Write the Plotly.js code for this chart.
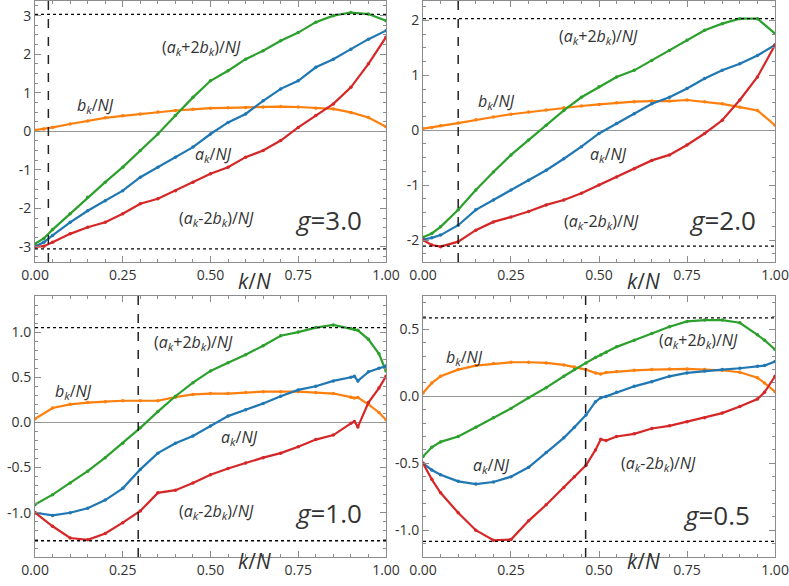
<!DOCTYPE html>
<html>
<head>
<meta charset="utf-8">
<script src="https://cdn.plot.ly/plotly-3.0.1.min.js"></script>
<style>
  body { margin: 0; background: #fff; }
  #chart { width: 789px; height: 586px; }
</style>
</head>
<body>
<div id="chart"></div>
<script>
    // g = 3.0
    var k_g30   = [0, 0.025, 0.05, 0.1, 0.15, 0.2, 0.25, 0.3, 0.35, 0.4, 0.45, 0.5,
                   0.55, 0.6, 0.65, 0.7, 0.75, 0.8, 0.85, 0.9, 0.95, 1.0];
    var b_g30   = [0.03, 0.06, 0.1, 0.19, 0.27, 0.35, 0.4, 0.45, 0.5, 0.54, 0.57, 0.6,
                   0.61, 0.62, 0.63, 0.64, 0.63, 0.6, 0.58, 0.49, 0.36, 0.12];
    var a_g30   = [-2.99, -2.88, -2.7, -2.36, -2.06, -1.8, -1.54, -1.19, -0.93, -0.67, -0.41, -0.07,
                   0.23, 0.45, 0.79, 1.1, 1.31, 1.66, 1.87, 2.13, 2.39, 2.61];
    var apb_g30 = [-2.92, -2.78, -2.55, -2.14, -1.71, -1.32, -0.93, -0.5, -0.07, 0.41, 0.88, 1.31,
                   1.57, 1.87, 2.09, 2.35, 2.56, 2.83, 3.0, 3.08, 3.04, 2.87];
    var amb_g30 = [-3.0, -2.98, -2.88, -2.66, -2.49, -2.36, -2.14, -1.88, -1.75, -1.54, -1.32, -1.1,
                   -0.93, -0.67, -0.5, -0.24, 0.1, 0.41, 0.71, 1.14, 1.75, 2.44];

    // g = 2.0
    var k_g20   = [0, 0.025, 0.05, 0.1, 0.15, 0.2, 0.25, 0.3, 0.35, 0.4, 0.45, 0.5,
                   0.55, 0.6, 0.65, 0.7, 0.75, 0.8, 0.85, 0.9, 0.95, 1.0];
    var b_g20   = [0.03, 0.05, 0.08, 0.13, 0.19, 0.24, 0.29, 0.33, 0.37, 0.41, 0.44, 0.47,
                   0.5, 0.52, 0.53, 0.53, 0.55, 0.52, 0.48, 0.42, 0.36, 0.09];
    var a_g20   = [-1.99, -1.96, -1.91, -1.73, -1.45, -1.27, -1.09, -0.91, -0.73, -0.52, -0.3, -0.06,
                   0.12, 0.3, 0.48, 0.6, 0.76, 0.94, 1.09, 1.21, 1.36, 1.55];
    var apb_g20 = [-1.95, -1.88, -1.76, -1.45, -1.09, -0.76, -0.45, -0.18, 0.09, 0.36, 0.6, 0.79,
                   0.97, 1.09, 1.27, 1.45, 1.64, 1.82, 1.94, 2.03, 2.03, 1.76];
    var amb_g20 = [-2.0, -2.09, -2.12, -2.03, -1.82, -1.67, -1.58, -1.48, -1.36, -1.27, -1.15, -1.0,
                   -0.85, -0.7, -0.55, -0.45, -0.27, -0.06, 0.18, 0.55, 0.97, 1.55];

    // g = 1.0
    var k_g10   = [0, 0.05, 0.1, 0.15, 0.2, 0.25, 0.3, 0.35, 0.4, 0.45, 0.5, 0.55, 0.6,
                   0.65, 0.7, 0.75, 0.8, 0.85, 0.9, 0.91, 0.92, 0.95, 0.98, 1.0];
    var b_g10   = [0.04, 0.16, 0.2, 0.22, 0.23, 0.24, 0.24, 0.24, 0.28, 0.31, 0.32, 0.32, 0.33,
                   0.34, 0.34, 0.34, 0.33, 0.32, 0.28, 0.27, 0.275, 0.2, 0.11, 0.03];
    var a_g10   = [-1.0, -1.03, -1.0, -0.95, -0.86, -0.73, -0.52, -0.34, -0.23, -0.15, -0.04, 0.07, 0.14,
                   0.21, 0.29, 0.36, 0.4, 0.46, 0.5, 0.51, 0.46, 0.56, 0.6, 0.625];
    var apb_g10 = [-0.91, -0.8, -0.67, -0.54, -0.39, -0.23, -0.06, 0.12, 0.29, 0.44, 0.57, 0.66, 0.75,
                   0.85, 0.96, 1.0, 1.05, 1.08, 1.04, 1.03, 1.02, 0.92, 0.76, 0.57];
    var amb_g10 = [-1.0, -1.15, -1.28, -1.3, -1.23, -1.11, -0.98, -0.78, -0.75, -0.67, -0.58, -0.51, -0.45,
                   -0.39, -0.34, -0.27, -0.19, -0.14, -0.01, 0.01, -0.05, 0.22, 0.38, 0.51];

    // g = 0.5
    var k_g05   = [0, 0.025, 0.05, 0.1, 0.15, 0.2, 0.25, 0.3, 0.35, 0.4, 0.43, 0.463, 0.49,
                   0.505, 0.52, 0.55, 0.6, 0.65, 0.7, 0.75, 0.8, 0.85, 0.9, 0.95, 0.97, 1.0];
    var b_g05   = [0.025, 0.1, 0.15, 0.2, 0.23, 0.245, 0.255, 0.255, 0.25, 0.235, 0.22, 0.2, 0.175,
                   0.167, 0.178, 0.185, 0.195, 0.2, 0.205, 0.205, 0.2, 0.195, 0.18, 0.14, 0.1, 0.035];
    var a_g05   = [-0.5, -0.55, -0.585, -0.635, -0.655, -0.64, -0.6, -0.53, -0.42, -0.31, -0.23, -0.14, -0.04,
                   -0.01, 0.0, 0.03, 0.075, 0.11, 0.15, 0.175, 0.19, 0.2, 0.21, 0.225, 0.23, 0.26];
    var apb_g05 = [-0.45, -0.38, -0.34, -0.3, -0.23, -0.16, -0.09, -0.01, 0.065, 0.15, 0.2, 0.25, 0.29,
                   0.31, 0.33, 0.37, 0.42, 0.47, 0.52, 0.56, 0.57, 0.57, 0.55, 0.46, 0.42, 0.35];
    var amb_g05 = [-0.5, -0.62, -0.72, -0.87, -1.0, -1.075, -1.07, -0.93, -0.81, -0.68, -0.6, -0.515, -0.4,
                   -0.32, -0.33, -0.3, -0.28, -0.24, -0.22, -0.19, -0.16, -0.125, -0.075, -0.02, 0.03, 0.15];

    // reference levels per panel
    var gLabels  = ['3.0', '2.0', '1.0', '0.5'];
    var kStar    = [0.038, 0.10, 0.294, 0.462];
    var topLevel = [3.03, 2.03, 1.05, 0.587];
    var botLevel = [-3.05, -2.11, -1.31, -1.083];

    // tick labels (hyphen minus as in the original)
    var xTicks = [0, 0.25, 0.5, 0.75, 1.0];
    var xTickText = ['0.00', '0.25', '0.50', '0.75', '1.00'];
    var yTicks = [[-3, -2, -1, 0, 1, 2, 3], [-2, -1, 0, 1, 2],
                  [-1.5, -1.0, -0.5, 0, 0.5, 1.0], [-1.0, -0.5, 0, 0.5]];
    var yTickText = [['-3', '-2', '-1', '0', '1', '2', '3'], ['-2', '-1', '0', '1', '2'],
                     ['-1.5', '-1.0', '-0.5', '0.0', '0.5', '1.0'], ['-1.0', '-0.5', '0.0', '0.5']];

    var panels = [
        {k: k_g30, b: b_g30, a: a_g30, apb: apb_g30, amb: amb_g30},
        {k: k_g20, b: b_g20, a: a_g20, apb: apb_g20, amb: amb_g20},
        {k: k_g10, b: b_g10, a: a_g10, apb: apb_g10, amb: amb_g10},
        {k: k_g05, b: b_g05, a: a_g05, apb: apb_g05, amb: amb_g05}
    ];

    var colors = {b: '#ff7f0e', a: '#1f77b4', apb: '#2ca02c', amb: '#d62728'};
    var yRanges = [[-3.39, 3.39], [-2.4, 2.36], [-1.49, 1.4], [-1.2, 0.75]];
    var xDomains = [[0.0444, 0.4892], [0.5361, 0.9823], [0.0444, 0.4892], [0.5361, 0.9823]];
    var yDomains = [[0.5529, 0.999], [0.5529, 0.999], [0.0495, 0.4949], [0.0495, 0.4949]];

    // label positions [x, y] in data units: a+2b, b, a, a-2b, g
    var labelPos = [
        [[0.475, 2.18], [0.171, 0.66], [0.508, -0.59], [0.518, -2.27], [0.835, -2.31]],
        [[0.498, 1.70], [0.208, 0.52], [0.526, -0.44], [0.507, -1.67], [0.85, -1.64]],
        [[0.451, 0.88], [0.109, 0.34], [0.584, -0.17], [0.518, -0.985], [0.835, -1.0]],
        [[0.782, 0.42], [0.118, 0.29], [0.194, -0.52], [0.668, -0.5], [0.835, -0.885]]
    ];
    var labelText = [
        '(<i>a</i><sub><i>k</i></sub>+2<i>b</i><sub><i>k</i></sub>)/<i>NJ</i>',
        '<i>b</i><sub><i>k</i></sub>/<i>NJ</i>',
        '<i>a</i><sub><i>k</i></sub>/<i>NJ</i>',
        '(<i>a</i><sub><i>k</i></sub>-2<i>b</i><sub><i>k</i></sub>)/<i>NJ</i>'
    ];

    var data = [];
    var shapes = [];
    var annotations = [];
    var layout = {
        width: 789, height: 586,
        margin: {l: 0, r: 0, t: 0, b: 0},
        paper_bgcolor: '#fff', plot_bgcolor: '#fff',
        showlegend: false,
        font: {family: 'Open Sans, sans-serif', size: 14, color: '#333'}
    };

    for (let i = 0; i < 4; i++) {
        var n = i + 1;
        var xa = 'x' + (n > 1 ? n : ''), ya = 'y' + (n > 1 ? n : '');
        var p = panels[i];
        ['b', 'apb', 'a', 'amb'].forEach(function (key) {
            data.push({x: p.k, y: p[key], type: 'scatter', mode: 'lines+markers',
                       line: {color: colors[key], width: 2.2},
                       marker: {color: colors[key], size: 3.5},
                       xaxis: xa, yaxis: ya, hoverinfo: 'skip'});
        });

        var axBase = {
            showgrid: false, showline: true, linecolor: '#8c8c8c', linewidth: 1,
            mirror: 'ticks', ticks: 'inside', ticklen: 6, tickcolor: '#8c8c8c',
            tickfont: {size: 14, color: '#333'}
        };
        layout['xaxis' + (n > 1 ? n : '')] = Object.assign({}, axBase, {
            domain: xDomains[i], range: [0, 1], anchor: ya, zeroline: false,
            tickvals: xTicks, ticktext: xTickText,
            minor: {dtick: 0.05, ticks: 'inside', ticklen: 3, tickcolor: '#8c8c8c'}
        });
        layout['yaxis' + (n > 1 ? n : '')] = Object.assign({}, axBase, {
            domain: yDomains[i], range: yRanges[i], anchor: xa,
            zeroline: true, zerolinecolor: '#999', zerolinewidth: 1,
            tickvals: yTicks[i], ticktext: yTickText[i],
            minor: {dtick: (i < 2 ? 0.25 : 0.1), ticks: 'inside', ticklen: 3, tickcolor: '#8c8c8c'}
        });

        shapes.push({type: 'line', xref: xa, yref: ya, x0: 0, x1: 1, y0: topLevel[i], y1: topLevel[i],
                     line: {color: '#000', width: 1.3, dash: 'dot'}});
        shapes.push({type: 'line', xref: xa, yref: ya, x0: 0, x1: 1, y0: botLevel[i], y1: botLevel[i],
                     line: {color: '#000', width: 1.3, dash: 'dot'}});
        shapes.push({type: 'line', xref: xa, yref: ya + ' domain', x0: kStar[i], x1: kStar[i], y0: 0, y1: 1,
                     line: {color: '#222', width: 1.5, dash: 'dash'}});

        for (let j = 0; j < 4; j++) {
            annotations.push({xref: xa, yref: ya, x: labelPos[i][j][0], y: labelPos[i][j][1],
                              text: labelText[j], showarrow: false,
                              font: {size: 16, color: '#333'}});
        }
        annotations.push({xref: xa, yref: ya, x: labelPos[i][4][0], y: labelPos[i][4][1],
                          text: '<i>g</i>=' + gLabels[i], showarrow: false,
                          font: {size: 26, color: '#333'}});
        annotations.push({xref: xa, yref: 'paper', x: 0.625, y: (i < 2 ? 0.52 : 0.016),
                          text: '<i>k</i>/<i>N</i>', showarrow: false,
                          font: {size: 21, color: '#333'}});
    }
    layout.shapes = shapes;
    layout.annotations = annotations;

    Plotly.newPlot('chart', data, layout, {staticPlot: true});
</script>
</body>
</html>
